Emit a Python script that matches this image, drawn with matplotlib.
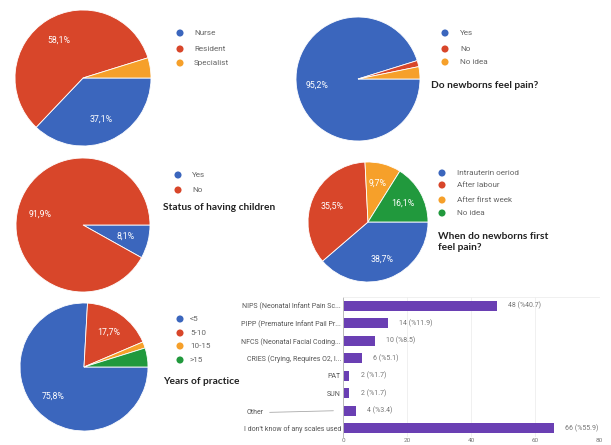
import numpy as np
import matplotlib
matplotlib.use('Agg')
import matplotlib.pyplot as plt

W, H = 611, 445

BLUE, RED, ORANGE, GREEN = '#3b66bd', '#d8462a', '#f6a02a', '#21993d'
PURPLE = '#6a3fb3'

# pie data (percent, as shown)
role_labels = ['Nurse', 'Resident', 'Specialist']
role_values = [37.1, 58.1, 4.8]

pain_labels = ['Yes', 'No', 'No idea']
pain_values = [95.2, 1.6, 3.2]

children_labels = ['Yes', 'No']
children_values = [8.1, 91.9]

first_labels = ['Intrauterin oeriod', 'After labour', 'After first week', 'No idea']
first_values = [38.7, 35.5, 9.7, 16.1]

years_labels = ['<5', '5-10', '10-15', '>15']
years_values = [75.8, 17.7, 1.6, 4.8]

# bar data
scale_labels = ['NIPS (Neonatal Infant Pain Sc...', 'PIPP (Premature Infant Pail Pr...',
                'NFCS (Neonatal Facial Coding...', 'CRIES (Crying, Requires O2, I...',
                'PAT', 'SUN', 'Other', "I don't know of any scales used"]
scale_counts = [48, 14, 10, 6, 2, 2, 4, 66]
scale_pcts = [40.7, 11.9, 8.5, 5.1, 1.7, 1.7, 3.4, 55.9]

fig = plt.figure(figsize=(W / 100, H / 100), dpi=100)
fig.patch.set_facecolor('white')


def px_axes(left, top, width, height):
    return fig.add_axes([left / W, 1 - (top + height) / H, width / W, height / H])


def draw_pie(cx, cy, r, values, colors):
    ax = px_axes(cx - r, cy - r, 2 * r, 2 * r)
    wedges, _ = ax.pie(values, colors=colors, startangle=0, counterclock=False,
                       wedgeprops=dict(edgecolor='white', linewidth=0.6))
    for w, v in zip(wedges, values):
        if v < 5:
            continue
        ang = np.deg2rad((w.theta1 + w.theta2) / 2)
        ax.text(0.66 * np.cos(ang), 0.66 * np.sin(ang), f'{v:.1f}%'.replace('.', ','),
                color='white', fontsize=6.3, ha='center', va='center', family='Roboto')
    ax.set_xlim(-1, 1)
    ax.set_ylim(-1, 1)
    ax.set_aspect('equal')
    ax.axis('off')


draw_pie(83, 78, 68, role_values, [BLUE, RED, ORANGE])
draw_pie(358, 79, 62, pain_values, [BLUE, RED, ORANGE])
draw_pie(83, 225, 67, children_values, [BLUE, RED])
draw_pie(368, 222, 60, first_values, [BLUE, RED, ORANGE, GREEN])
draw_pie(84, 367, 64, years_values, [BLUE, RED, ORANGE, GREEN])

# overlay for legends and titles, in pixel coords
ov = fig.add_axes([0, 0, 1, 1])
ov.set_xlim(0, W)
ov.set_ylim(H, 0)
ov.axis('off')


def legend(x, ys, labels, colors, tx):
    for y, lab, c in zip(ys, labels, colors):
        ov.scatter(x, y, s=26, color=c, edgecolors='none')
        ov.text(tx, y, lab, fontsize=5.9, color='#666666', va='center', family='Roboto')


legend(180, [33, 49, 63], role_labels, [BLUE, RED, ORANGE], 194)
legend(445, [33, 49, 62], pain_labels, [BLUE, RED, ORANGE], 460)
legend(178, [175, 190], children_labels, [BLUE, RED], 192)
legend(442, [173, 185, 200, 213], first_labels, [BLUE, RED, ORANGE, GREEN], 457)
legend(180, [319, 333, 346, 360], years_labels, [BLUE, RED, ORANGE, GREEN], 190)

tkw = dict(fontsize=7.3, fontweight='bold', color='#222222', va='center', family='Lato')
ov.text(431, 85, 'Do newborns feel pain?', **tkw)
ov.text(163, 207, 'Status of having children', **tkw)
ov.text(438, 242, 'When do newborns first\nfeel pain?', linespacing=1.25, **tkw)
ov.text(163, 382, 'Years of practice', **tkw)
ov.text(445, 373, 'About pain scales', **tkw)

# bar chart
bx = px_axes(343, 297, 256, 140)
y = np.arange(len(scale_labels))
bx.barh(y, scale_counts, height=0.58, color=PURPLE)
for yi, c, p in zip(y, scale_counts, scale_pcts):
    bx.text(c + 3.5, yi, f'{c} (%{p})', fontsize=5.0, color='#777777', va='center', family='Roboto')
bx.set_xlim(0, 80)
bx.set_ylim(len(scale_labels) - 0.5, -0.5)
bx.set_xticks([0, 20, 40, 60, 80])
bx.set_xticklabels(['0', '20', '40', '60', '80'], fontsize=4.6, color='#777777', family='Roboto')
bx.set_yticks(y)
tick_text = [lab if lab != 'Other' else '' for lab in scale_labels]
bx.set_yticklabels(tick_text, fontsize=5.0, color='#555555', family='Roboto')
bx.tick_params(length=0, pad=1.5)
bx.tick_params(axis='x', pad=1)
bx.grid(axis='x', color='#eeeeee', linewidth=0.6)
bx.set_axisbelow(True)
for s in ['right', 'bottom']:
    bx.spines[s].set_visible(False)
bx.spines['top'].set_color('#eeeeee')
bx.spines['top'].set_linewidth(0.6)
bx.spines['left'].set_color('#bbbbbb')
bx.spines['left'].set_linewidth(0.7)

oi = scale_labels.index('Other')
bx.annotate('Other', xy=(-3, oi), xycoords='data', xytext=(-30, oi + 0.1), textcoords='data',
            fontsize=5.0, color='#555555', ha='left', va='center', family='Roboto',
            annotation_clip=False,
            arrowprops=dict(arrowstyle='-', color='#aaaaaa', linewidth=0.6, shrinkA=2, shrinkB=0,
                            relpos=(1, 0.5)))

fig.savefig('out.png', dpi=100, facecolor='white')
